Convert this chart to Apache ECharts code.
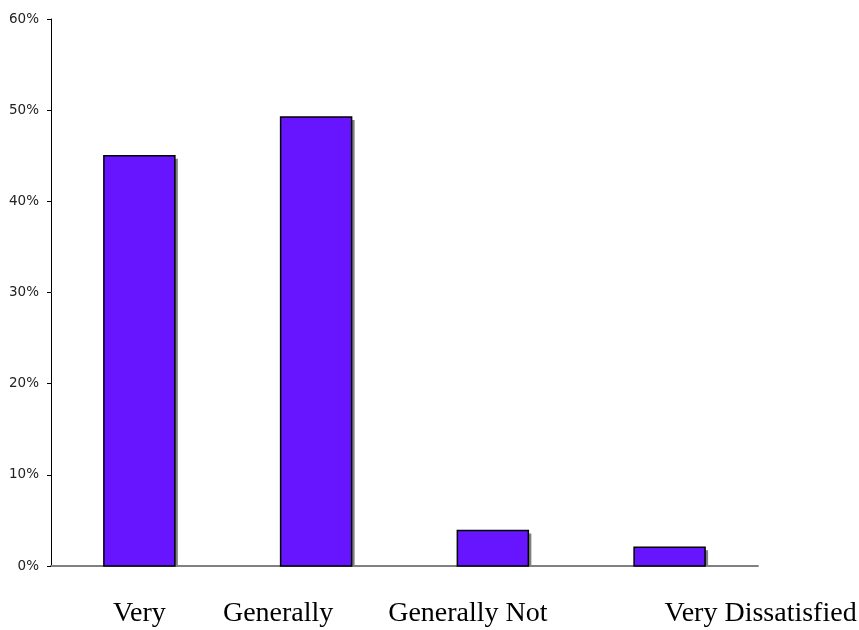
<!DOCTYPE html>
<html>
<head>
<meta charset="utf-8">
<script src="https://cdn.jsdelivr.net/npm/echarts@6/dist/echarts.min.js"></script>
<style>html,body{margin:0;padding:0;background:#fff;}#c{width:859px;height:630px;}</style>
</head>
<body>
<div id="c"></div>
<script>
const categories = ['Very', 'Generally', 'Generally Not', 'Very Dissatisfied'];
const values = [45.0, 49.25, 3.9, 2.05];
const yTicks = [0, 10, 20, 30, 40, 50, 60];

const labelKeys = ['p0', 'p1', 'p2', 'p3'];
const seriesData = values.map((v, i) => [i, v]);
const BAR_W = 71;

const chart = echarts.init(document.getElementById('c'));
chart.setOption({
  animation: false,
  backgroundColor: '#ffffff',
  grid: { left: 51, right: 96, top: 19, bottom: 64 },
  xAxis: {
    type: 'category',
    data: categories,
    axisLine: { show: true, lineStyle: { color: '#808080', width: 2 } },
    axisTick: { show: false },
    axisLabel: {
      interval: 0,
      hideOverlap: false,
      margin: 34,
      formatter: (v, i) => '{' + labelKeys[i] + '|' + v + '}',
      rich: {
        p0: { fontFamily: 'Liberation Serif', fontSize: 28, color: '#000', lineHeight: 28 },
        p1: { fontFamily: 'Liberation Serif', fontSize: 28, color: '#000', lineHeight: 28, padding: [0, 76, 0, 0] },
        p2: { fontFamily: 'Liberation Serif', fontSize: 28, color: '#000', lineHeight: 28, padding: [0, 50, 0, 0] },
        p3: { fontFamily: 'Liberation Serif', fontSize: 28, color: '#000', lineHeight: 28, padding: [0, 0, 0, 182] }
      }
    }
  },
  yAxis: {
    type: 'value',
    min: yTicks[0],
    max: yTicks[yTicks.length - 1],
    interval: 10,
    axisLine: { show: true, lineStyle: { color: '#000', width: 1 } },
    axisTick: { show: true, length: 4, lineStyle: { color: '#000' } },
    splitLine: { show: false },
    axisLabel: {
      margin: 12,
      fontFamily: 'DejaVu Sans',
      fontSize: 13.5,
      color: '#222',
      formatter: v => v + '%'
    }
  },
  series: [{
    type: 'custom',
    data: seriesData,
    encode: { x: 0, y: 1 },
    renderItem: function (params, api) {
      const top = api.coord([api.value(0), api.value(1)]);
      const base = api.coord([api.value(0), 0]);
      const x0 = top[0] - BAR_W / 2;
      const h = base[1] - top[1];
      return {
        type: 'group',
        children: [
          {
            type: 'rect',
            shape: { x: x0 + 3, y: top[1] + 3, width: BAR_W, height: Math.max(h - 3, 0) },
            style: { fill: '#808080' }
          },
          {
            type: 'rect',
            shape: { x: x0, y: top[1], width: BAR_W, height: h },
            style: { fill: '#6815ff', stroke: '#000', lineWidth: 1.5 }
          }
        ]
      };
    }
  }]
});
</script>
</body>
</html>
